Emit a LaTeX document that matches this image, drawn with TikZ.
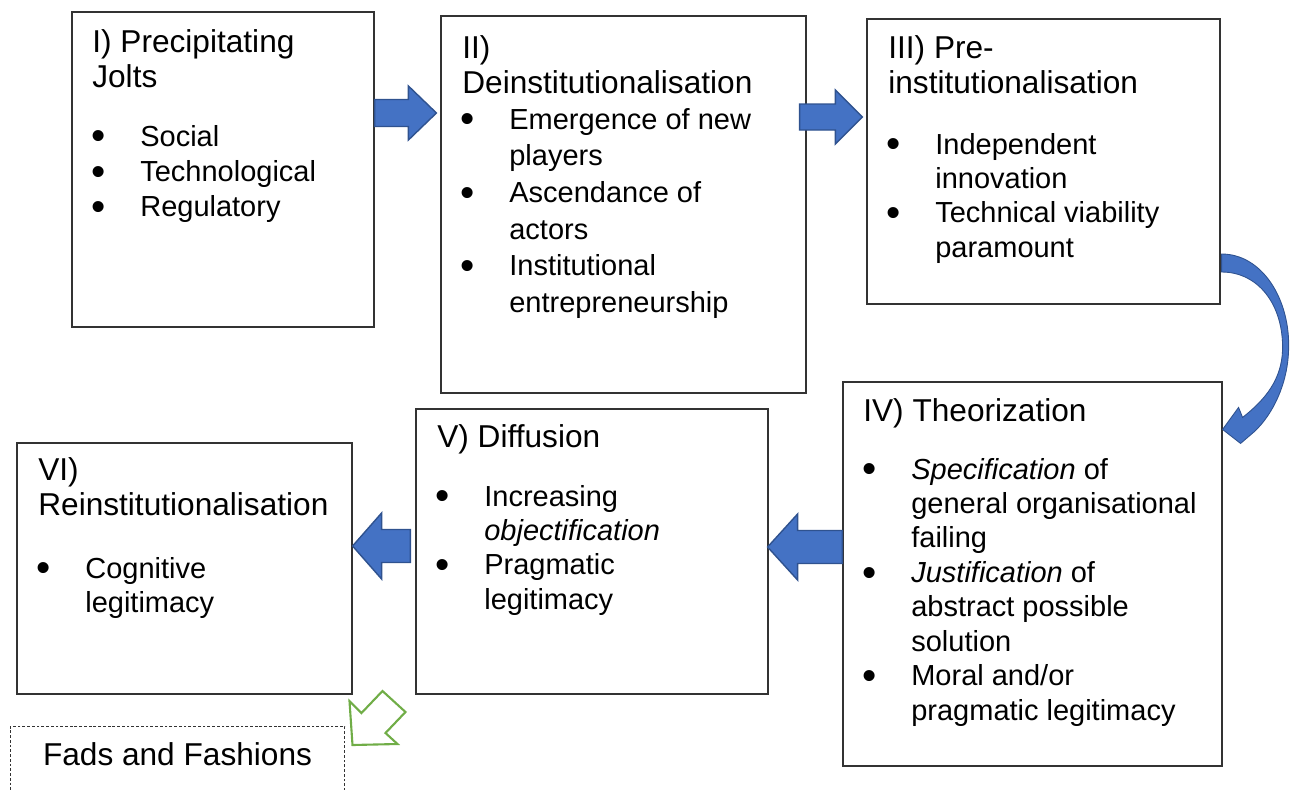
\documentclass[tikz,border=0pt]{standalone}
\usepackage{fontspec}
\setmainfont{Liberation Sans}
\usepackage{graphicx}
\usepackage{tikz}
\usetikzlibrary{calc}
\definecolor{arrblue}{HTML}{4472C4}
\definecolor{arredge}{HTML}{2F528F}
\definecolor{fadgreen}{HTML}{70AD47}

% bigger bullet, as in the list boxes
\newcommand{\bul}{\raisebox{-2.2pt}{\scalebox{1.4}{\textbullet}}}
% block arrow: from, tip, half shaft, half head, head length (negative = pointing left)
\newcommand{\blockarr}[5]{%
  \draw[blockarrow] ($(#1)+(0,#3)$) -- ($(#2)-(#5,0)+(0,#3)$) -- ($(#2)-(#5,0)+(0,#4)$) -- (#2)
    -- ($(#2)-(#5,0)-(0,#4)$) -- ($(#2)-(#5,0)-(0,#3)$) -- ($(#1)-(0,#3)$) -- cycle;}

\begin{document}
\begin{tikzpicture}[x=0.02cm, y=-0.02cm,
  stagebox/.style={draw=black!80, line width=0.7pt, inner sep=0pt},
  titletext/.style={anchor=base west, inner sep=0pt, font=\fontsize{18}{20.4}\selectfont},
  bodytext/.style={anchor=base west, inner sep=0pt, font=\fontsize{16.5}{19.6}\selectfont},
  blockarrow/.style={fill=arrblue, draw=arredge, line width=0.8pt, line join=miter}]
\useasboundingbox (0,0) rectangle (1296,789);
\clip (0,0) rectangle (1296,789);

% stage boxes
\node[stagebox, minimum width=6.04cm, minimum height=6.30cm] (boxI) at (223,169.5) {};
\node[stagebox, minimum width=7.30cm, minimum height=7.54cm] (boxII) at (623.5,204.5) {};
\node[stagebox, minimum width=7.06cm, minimum height=5.70cm] (boxIII) at (1043.5,161.5) {};
\node[stagebox, minimum width=7.58cm, minimum height=7.68cm] (boxIV) at (1032.5,574) {};
\node[stagebox, minimum width=7.04cm, minimum height=5.70cm] (boxV) at (592,551.5) {};
\node[stagebox, minimum width=6.70cm, minimum height=5.02cm] (boxVI) at (184.5,568.5) {};
\node[draw=black!80, dash pattern=on 1.6pt off 1.1pt, line width=0.6pt, inner sep=0pt,
      minimum width=6.70cm, minimum height=1.80cm, anchor=north] (fads) at (177.5,726) {};

% I
\node[titletext] (tI) at (92,52) {\begin{tabular}[t]{@{}l@{}}I) Precipitating\\Jolts\end{tabular}};
\node[bodytext, font=\fontsize{16.5}{20.1}\selectfont] (bI) at (91,146) {\begin{tabular}[t]{@{}p{0.98cm}@{}l@{}}
  \bul & Social\\ \bul & Technological\\ \bul & Regulatory\end{tabular}};
% II
\node[titletext] (tII) at (462,58) {\begin{tabular}[t]{@{}l@{}}II)\\Deinstitutionalisation\end{tabular}};
\node[bodytext, font=\fontsize{16.5}{20.9}\selectfont] (bII) at (460,129) {\begin{tabular}[t]{@{}p{0.98cm}@{}l@{}}
  \bul & Emergence of new\\ & players\\ \bul & Ascendance of\\ & actors\\
  \bul & Institutional\\ & entrepreneurship\end{tabular}};
% III
\node[titletext] (tIII) at (888,58) {\begin{tabular}[t]{@{}l@{}}III) Pre-\\institutionalisation\end{tabular}};
\node[bodytext] (bIII) at (886,154) {\begin{tabular}[t]{@{}p{0.98cm}@{}l@{}}
  \bul & Independent\\ & innovation\\ \bul & Technical viability\\ & paramount\end{tabular}};
% IV
\node[titletext] (tIV) at (863,421) {IV) Theorization};
\node[bodytext] (bIV) at (862,479) {\begin{tabular}[t]{@{}p{0.98cm}@{}l@{}}
  \bul & \textit{Specification} of\\ & general organisational\\ & failing\\
  \bul & \textit{Justification} of\\ & abstract possible\\ & solution\\
  \bul & Moral and/or\\ & pragmatic legitimacy\end{tabular}};
% V
\node[titletext] (tV) at (437,447) {V) Diffusion};
\node[bodytext] (bV) at (435,506) {\begin{tabular}[t]{@{}p{0.98cm}@{}l@{}}
  \bul & Increasing\\ & \textit{objectification}\\ \bul & Pragmatic\\ & legitimacy\end{tabular}};
% VI
\node[titletext] (tVI) at (38,480) {\begin{tabular}[t]{@{}l@{}}VI)\\Reinstitutionalisation\end{tabular}};
\node[bodytext] (bVI) at (36,578) {\begin{tabular}[t]{@{}p{0.98cm}@{}l@{}}
  \bul & Cognitive\\ & legitimacy\end{tabular}};
% fads
\node[font=\fontsize{18}{20.4}\selectfont, anchor=base, inner sep=0pt] (tfads) at (fads.north |- 0,765) {Fads and Fashions};

% straight block arrows
\coordinate (a1s) at (boxI.east |- 0,113);
\coordinate (a1e) at ($(boxII.west |- 0,113)+(-4,0)$);
\coordinate (a2s) at ($(boxII.east |- 0,117)+(-7,0)$);
\coordinate (a2e) at ($(boxIII.west |- 0,117)+(-4,0)$);
\coordinate (a3s) at (boxIV.west |- 0,547);
\coordinate (a3e) at ($(boxV.east |- 0,547)+(-1,0)$);
\coordinate (a4s) at ($(boxV.west |- 0,546)+(-5,0)$);
\coordinate (a4e) at (boxVI.east |- 0,546);
\blockarr{a1s}{a1e}{13.5}{27}{28}
\blockarr{a2s}{a2e}{13}{27}{27}
\blockarr{a3s}{a3e}{16.5}{33}{-30}
\blockarr{a4s}{a4e}{16.5}{33}{-29}

% curved arrow III -> IV
\coordinate (cs) at (boxIII.east |- 0,263);
\coordinate (ct) at ($(boxIV.north east)+(0,48)$);
\draw[blockarrow, line width=0.5pt] ($(cs)+(1,-9)$) .. controls ($(cs)+(42,-9)$) and ($(cs)+(70,37)$) .. ($(cs)+(68,87)$)
  .. controls ($(ct)+(65,-45)$) and ($(ct)+(50,-15)$) .. ($(ct)+(32,2)$)
  -- ($(ct)+(18,14)$) -- (ct) -- ($(ct)+(16,-22)$) -- ($(ct)+(20,-12)$)
  .. controls ($(ct)+(43,-30)$) and ($(ct)+(59,-50)$) .. ($(cs)+(62,87)$)
  .. controls ($(cs)+(63,42)$) and ($(cs)+(38,9)$) .. ($(cs)+(1,9)$) -- cycle;

% hollow arrow towards fads box
\coordinate (gt) at ($(fads.north east)+(7,19)$);
\draw[fadgreen, line width=1.2pt, line join=miter] (gt) -- ++(-3,-44) -- ++(12,12) -- ++(21,-22) -- ++(23,21)
  -- ++(-20,21) -- ++(12,11) -- cycle;
\end{tikzpicture}
\end{document}
